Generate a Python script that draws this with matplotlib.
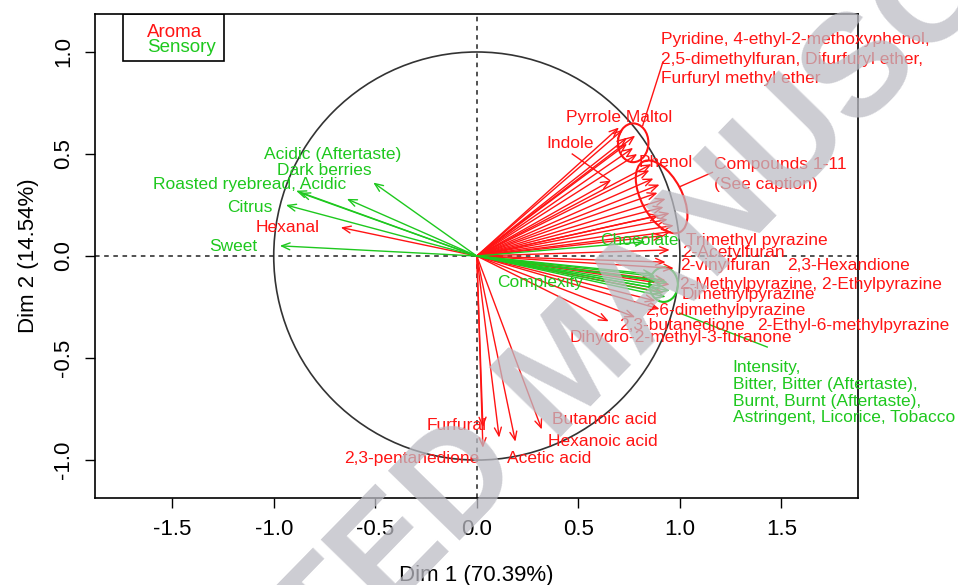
#import the necessary libraries
import matplotlib
matplotlib.use("Agg")
import matplotlib.pyplot as plt
from matplotlib.patches import Circle, Ellipse, Rectangle

plt.rcParams['font.family'] = ['Liberation Sans', 'DejaVu Sans']

#aroma variables (red): coordinates on Dim 1 and Dim 2
aroma_names = ['Hexanal',
               'Pyridine', '4-ethyl-2-methoxyphenol', '2,5-dimethylfuran', 'Difurfuryl ether',
               'Furfuryl methyl ether', 'Pyrrole', 'Maltol', 'Indole', 'Phenol',
               'Compound 1', 'Compound 2', 'Compound 3', 'Compound 4', 'Compound 5', 'Compound 6',
               'Compound 7', 'Compound 8', 'Compound 9', 'Compound 10', 'Compound 11',
               'Trimethyl pyrazine', '2-Acetylfuran', '2-vinylfuran', '2,3-Hexandione',
               '2-Methylpyrazine', '2-Ethylpyrazine', 'Dimethylpyrazine', '2,6-dimethylpyrazine',
               '2-Ethyl-6-methylpyrazine', '2,3-butanedione', 'Dihydro-2-methyl-3-furanone',
               'Furfural', '2,3-pentanedione', 'Acetic acid', 'Hexanoic acid', 'Butanoic acid']
aroma_dim1 = [-0.67,
              0.72, 0.74, 0.77, 0.74, 0.79, 0.70, 0.78, 0.66, 0.86,
              0.85, 0.87, 0.90, 0.89, 0.93, 0.92, 0.95, 0.94, 0.97, 0.96, 0.90,
              0.92, 0.95, 0.93, 0.97, 0.93, 0.95, 0.92, 0.88, 0.90, 0.65, 0.78,
              0.03, 0.03, 0.11, 0.19, 0.32]
aroma_dim2 = [0.14,
              0.62, 0.58, 0.53, 0.55, 0.50, 0.63, 0.59, 0.37, 0.45,
              0.42, 0.38, 0.35, 0.31, 0.28, 0.24, 0.21, 0.18, 0.15, 0.12, 0.20,
              0.10, 0.03, -0.03, -0.06, -0.12, -0.14, -0.18, -0.22, -0.26, -0.32, -0.30,
              -0.84, -0.94, -0.89, -0.91, -0.85]

#sensory variables (green)
sensory_names = ['Acidic (Aftertaste)', 'Dark berries', 'Roasted ryebread', 'Acidic', 'Citrus', 'Sweet',
                 'Chocolate', 'Complexity', 'Intensity', 'Bitter', 'Bitter (Aftertaste)', 'Burnt',
                 'Burnt (Aftertaste)', 'Astringent', 'Licorice', 'Tobacco']
sensory_dim1 = [-0.51, -0.64, -0.89, -0.87, -0.94, -0.97,
                0.83, 0.87, 0.88, 0.90, 0.92, 0.94, 0.91, 0.95, 0.89, 0.93]
sensory_dim2 = [0.36, 0.28, 0.32, 0.31, 0.25, 0.05,
                0.07, -0.09, -0.10, -0.12, -0.15, -0.13, -0.18, -0.17, -0.16, -0.20]

#labels written on the plot (text, x, y, horizontal alignment)
aroma_labels = [('Hexanal', -0.93, 0.14, 'center'),
                ('Pyrrole Maltol', 0.70, 0.68, 'center'),
                ('Indole', 0.46, 0.55, 'center'),
                ('Phenol', 0.93, 0.46, 'center'),
                ('Pyridine, 4-ethyl-2-methoxyphenol,\n2,5-dimethylfuran, Difurfuryl ether,\nFurfuryl methyl ether', 0.905, 0.965, 'left'),
                ('Compounds 1-11\n(See caption)', 1.17, 0.40, 'left'),
                ('Trimethyl pyrazine', 1.03, 0.078, 'left'),
                ('2-Acetylfuran', 1.01, 0.015, 'left'),
                ('2-vinylfuran', 1.0, -0.045, 'left'),
                ('2,3-Hexandione', 1.527, -0.045, 'left'),
                ('2-Methylpyrazine, 2-Ethylpyrazine', 1.0, -0.14, 'left'),
                ('Dimethylpyrazine', 1.01, -0.19, 'left'),
                ('2,6-dimethylpyrazine', 0.83, -0.265, 'left'),
                ('2,3-butanedione', 0.70, -0.34, 'left'),
                ('2-Ethyl-6-methylpyrazine', 1.38, -0.34, 'left'),
                ('Dihydro-2-methyl-3-furanone', 0.458, -0.40, 'left'),
                ('Butanoic acid', 0.37, -0.80, 'left'),
                ('Hexanoic acid', 0.35, -0.91, 'left'),
                ('Acetic acid', 0.148, -0.99, 'left'),
                ('2,3-pentanedione', 0.015, -0.99, 'right'),
                ('Furfural', 0.05, -0.83, 'right')]
sensory_labels = [('Acidic (Aftertaste)', -0.71, 0.50, 'center'),
                  ('Dark berries', -0.75, 0.42, 'center'),
                  ('Roasted ryebread, Acidic', -1.12, 0.35, 'center'),
                  ('Citrus', -1.12, 0.24, 'center'),
                  ('Sweet', -1.20, 0.045, 'center'),
                  ('Chocolate', 0.80, 0.078, 'center'),
                  ('Complexity', 0.31, -0.13, 'center'),
                  ('Intensity,\nBitter, Bitter (Aftertaste),\nBurnt, Burnt (Aftertaste),\nAstringent, Licorice, Tobacco', 1.26, -0.67, 'left')]

red = '#ff1414'
green = '#1ec81e'

fig = plt.figure(figsize=(9.58, 5.85), dpi=100)
ax = fig.add_axes([0.0992, 0.1487, 0.7964, 0.8273])
ax.set_xlim(-1.88, 1.877)
ax.set_ylim(-1.186, 1.186)

#unit circle and the dashed axes
ax.add_patch(Circle((0, 0), 1, fill=False, color='#333333', lw=1.2))
ax.axhline(0, color='#222222', ls=(0, (3, 3)), lw=1.1)
ax.axvline(0, color='#222222', ls=(0, (3, 3)), lw=1.1)

#draw the arrows from the origin
arrow_style = '->,head_length=0.6,head_width=0.25'
for x, y in zip(aroma_dim1, aroma_dim2):
    ax.annotate('', xy=(x, y), xytext=(0, 0),
                arrowprops=dict(arrowstyle=arrow_style, color=red, lw=1, shrinkA=0, shrinkB=0))
for x, y in zip(sensory_dim1, sensory_dim2):
    ax.annotate('', xy=(x, y), xytext=(0, 0),
                arrowprops=dict(arrowstyle=arrow_style, color=green, lw=1, shrinkA=0, shrinkB=0))

#ellipses grouping the crowded arrows
ax.add_patch(Ellipse((0.77, 0.555), 0.15, 0.19, fill=False, color=red, lw=1.5))
ax.add_patch(Ellipse((0.91, 0.29), 0.2, 0.39, angle=28, fill=False, color=red, lw=1.5))
ax.add_patch(Ellipse((0.92, -0.14), 0.14, 0.17, fill=False, color=green, lw=1.5))

#leader lines from labels to groups
ax.plot([0.916, 0.817], [0.95, 0.64], color=red, lw=1)
ax.plot([0.47, 0.655], [0.50, 0.37], color=red, lw=1)
ax.plot([1.0, 1.16], [0.34, 0.41], color=red, lw=1)
ax.plot([0.999, 1.43], [-0.28, -0.446], color=green, lw=1)

#labels
for text, x, y, ha in aroma_labels:
    ax.text(x, y, text, color=red, fontsize=12.5, ha=ha, va='center', linespacing=1.35, clip_on=False)
for text, x, y, ha in sensory_labels:
    ax.text(x, y, text, color=green, fontsize=12.5, ha=ha, va='center', linespacing=1.15, clip_on=False)

#legend box in the top left corner
ax.add_patch(Rectangle((-1.74, 0.956), 0.494, 0.23, fill=False, color='black', lw=1.2))
ax.text(-1.626, 1.095, 'Aroma', color=red, fontsize=13.5, va='center')
ax.text(-1.626, 1.022, 'Sensory', color=green, fontsize=13.5, va='center')

#axes in the R base style
ax.set_xticks([-1.5, -1.0, -0.5, 0.0, 0.5, 1.0, 1.5])
ax.set_yticks([-1.0, -0.5, 0.0, 0.5, 1.0])
ax.set_xticklabels(['-1.5', '-1.0', '-0.5', '0.0', '0.5', '1.0', '1.5'], fontsize=16)
ax.set_yticklabels(['-1.0', '-0.5', '0.0', '0.5', '1.0'], fontsize=16, rotation=90, va='center')
ax.tick_params(length=7, width=1, pad=8)
for s in ax.spines.values():
    s.set_linewidth(1.2)
ax.set_xlabel('Dim 1 (70.39%)', fontsize=16, labelpad=18)
ax.set_ylabel('Dim 2 (14.54%)', fontsize=16, labelpad=10)

#watermark of the manuscript
fig.text(572 / 958, 1 - 372 / 585, 'ACCEPTED MANUSCRIPT', fontsize=104, fontweight='bold',
         color='#bcbcc4', alpha=0.75, rotation=45.7, ha='center', va='center', zorder=10)

plt.savefig('out.png', dpi=100)
